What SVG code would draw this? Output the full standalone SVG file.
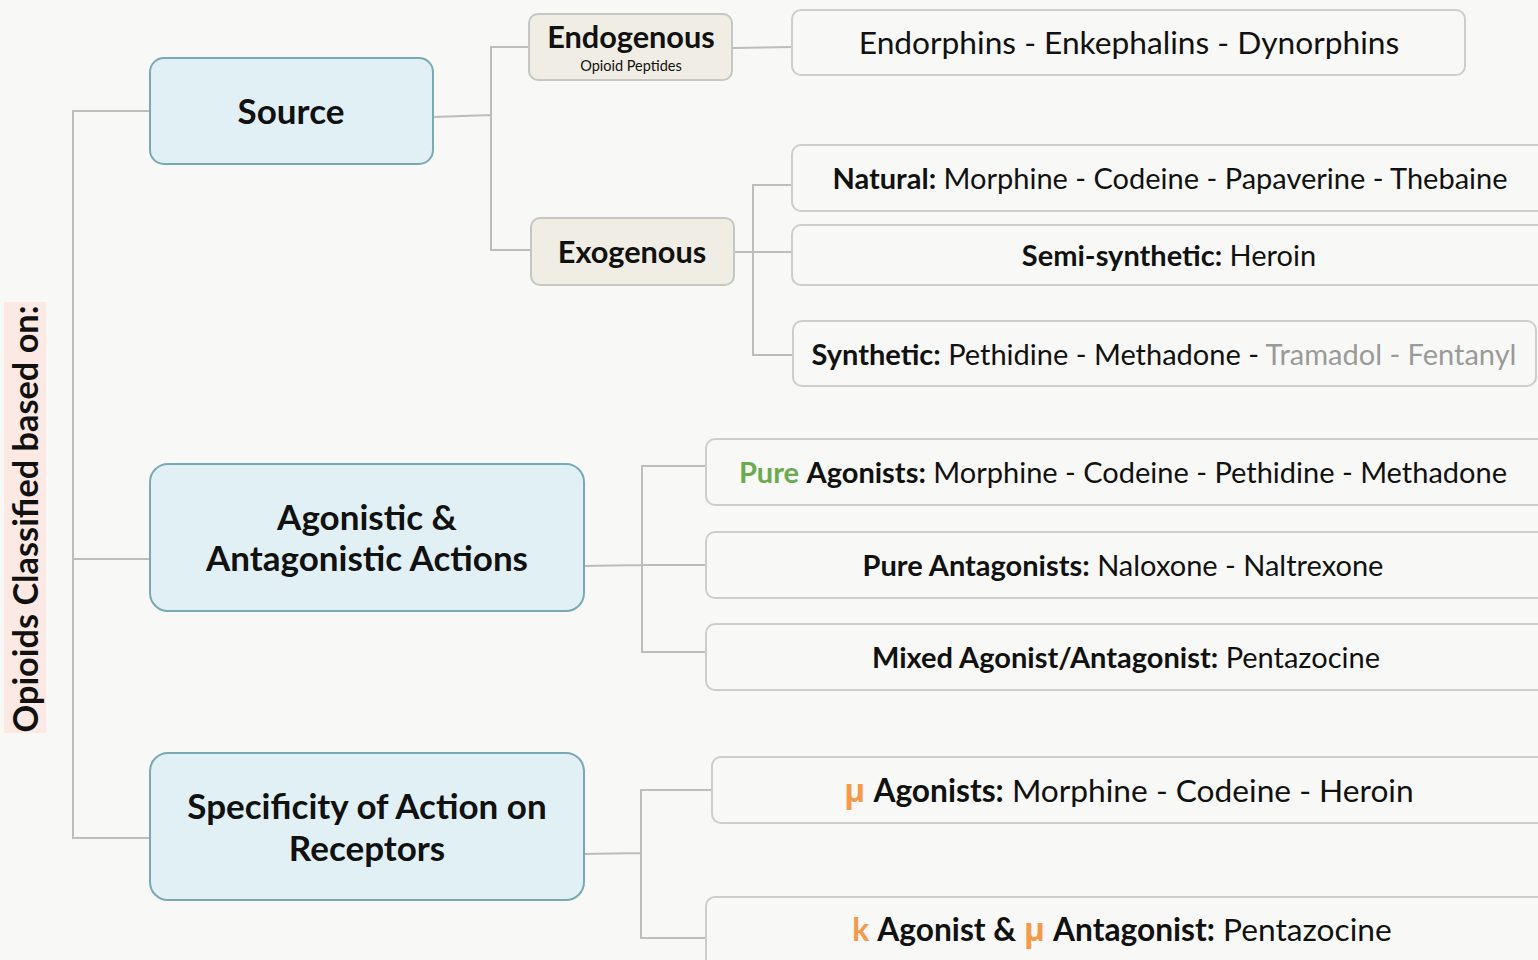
<svg xmlns="http://www.w3.org/2000/svg" width="1538" height="960" viewBox="0 0 1538 960">
<defs>
<style>
text{font-family:Lato,"Open Sans","Liberation Sans",sans-serif;fill:#111;}
.main{fill:#e1f0f5;stroke:#79a9b5;stroke-width:2;}
.mid{fill:#efede4;stroke:#c6c6c2;stroke-width:2;}
.leaf{fill:#f8f8f6;stroke:#cdcdcd;stroke-width:2;}
.conn{fill:none;stroke:#bdbdbb;stroke-width:2;}
.mt{font-size:35px;font-weight:700;text-anchor:middle;}
.md{font-size:30.7px;font-weight:700;text-anchor:middle;}
.lt{font-size:29px;font-weight:400;text-anchor:middle;}
.lg{font-size:31.7px;}
.b{font-weight:700;}
.green{fill:#6aab4f;}
.orange{fill:#f49a4a;}
.mu{font-family:"Open Sans","Noto Sans",sans-serif;}
.gray{fill:#9a9a9a;}
</style>
</defs>
<rect x="0" y="0" width="1538" height="960" fill="#f8f8f6"/>

<g id="connectors">
<path class="conn" d="M150,111 H73 V838 H150 M73,559 H150"/>
<path class="conn" d="M434,117 L491,115 M529,47 H491 V250 H531"/>
<path class="conn" d="M732,48 L792,47"/>
<path class="conn" d="M734,252 H792 M792,185 H753 V355 H793"/>
<path class="conn" d="M584,566 L642,565 H706 M706,466 H642 V652 H706"/>
<path class="conn" d="M584,854 L641,853 M712,790 H641 V938 H706"/>
</g>

<g id="title">
<rect x="4" y="302" width="42" height="431" fill="#fde9e3"/>
<text transform="translate(38,519) rotate(-90)" font-size="34.3" font-weight="700" text-anchor="middle">Opioids Classified based on:</text>
</g>

<g id="source">
<rect class="main" x="150" y="58" width="283" height="106" rx="14"/>
<text class="mt" x="291" y="124">Source</text>
</g>

<g id="agonistic">
<rect class="main" x="150" y="464" width="434" height="147" rx="18"/>
<text class="mt" x="367" y="530">Agonistic &amp;</text>
<text class="mt" x="367" y="571">Antagonistic Actions</text>
</g>

<g id="specificity">
<rect class="main" x="150" y="753" width="434" height="147" rx="18"/>
<text class="mt" x="367" y="819">Specificity of Action on</text>
<text class="mt" x="367" y="861">Receptors</text>
</g>

<g id="endogenous">
<rect class="mid" x="529" y="14" width="203" height="66" rx="9"/>
<text class="md" x="631" y="48">Endogenous</text>
<text x="631" y="71" font-size="14.5" text-anchor="middle">Opioid Peptides</text>
</g>

<g id="exogenous">
<rect class="mid" x="531" y="218" width="203" height="67" rx="9"/>
<text class="md" x="632" y="263">Exogenous</text>
</g>

<g id="endorphins">
<rect class="leaf" x="792" y="10" width="673" height="65" rx="9"/>
<text class="lt lg" x="1129" y="54">Endorphins - Enkephalins - Dynorphins</text>
</g>

<g id="natural">
<rect class="leaf" x="792" y="145" width="760" height="66" rx="9"/>
<text class="lt" x="1170" y="189"><tspan class="b">Natural:</tspan> Morphine - Codeine - Papaverine - Thebaine</text>
</g>

<g id="semisynthetic">
<rect class="leaf" x="792" y="225" width="760" height="60" rx="9"/>
<text class="lt" x="1169" y="266" font-size="29.5"><tspan class="b">Semi-synthetic:</tspan> Heroin</text>
</g>

<g id="synthetic">
<rect class="leaf" x="793" y="321" width="743" height="65" rx="9"/>
<text class="lt" x="1164" y="365"><tspan class="b">Synthetic:</tspan> Pethidine - Methadone - <tspan class="gray">Tramadol - Fentanyl</tspan></text>
</g>

<g id="pure-agonists">
<rect class="leaf" x="706" y="439" width="846" height="66" rx="9"/>
<text class="lt" x="1123" y="483"><tspan class="b green">Pure</tspan> <tspan class="b">Agonists:</tspan> Morphine - Codeine - Pethidine - Methadone</text>
</g>

<g id="pure-antagonists">
<rect class="leaf" x="706" y="532" width="846" height="66" rx="9"/>
<text class="lt" x="1123" y="576" font-size="29.3"><tspan class="b">Pure Antagonists:</tspan> Naloxone - Naltrexone</text>
</g>

<g id="mixed">
<rect class="leaf" x="706" y="624" width="846" height="66" rx="9"/>
<text class="lt" x="1126" y="668" font-size="29.3"><tspan class="b">Mixed Agonist/Antagonist:</tspan> Pentazocine</text>
</g>

<g id="mu-agonists">
<rect class="leaf" x="712" y="757" width="840" height="66" rx="9"/>
<text class="lt lg" x="1129" y="802"><tspan class="b orange mu">μ</tspan> <tspan class="b">Agonists:</tspan> Morphine - Codeine - Heroin</text>
</g>

<g id="kappa-agonist">
<rect class="leaf" x="706" y="897" width="846" height="80" rx="9"/>
<text class="lt lg" x="1122" y="941"><tspan class="b orange">k</tspan> <tspan class="b">Agonist &amp; </tspan><tspan class="b orange mu">μ</tspan> <tspan class="b">Antagonist:</tspan> Pentazocine</text>
</g>
</svg>
